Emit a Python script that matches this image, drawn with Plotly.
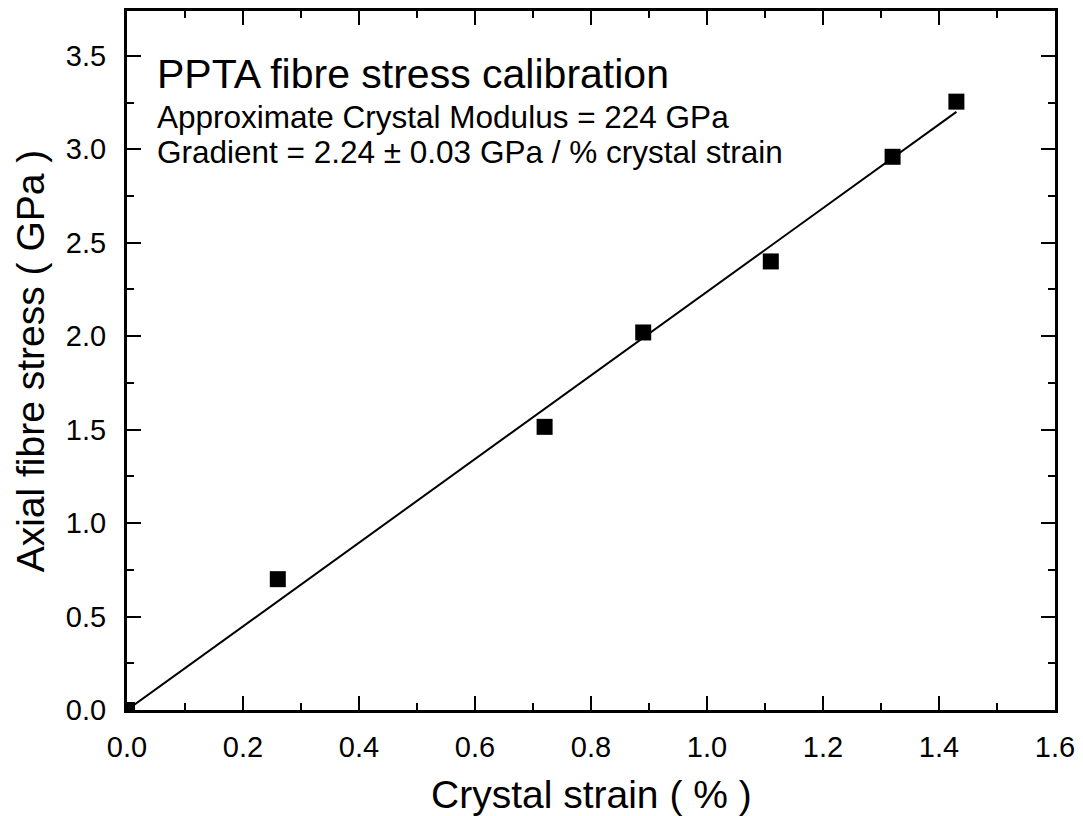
import plotly.graph_objects as go

# Data
strain = [0.0, 0.26, 0.72, 0.89, 1.11, 1.32, 1.43]
stress = [0.0, 0.70, 1.515, 2.02, 2.40, 2.96, 3.255]

fit_x = [0.0, 1.43]
fit_y = [0.0, 3.20]

x_ticks = [0.0, 0.2, 0.4, 0.6, 0.8, 1.0, 1.2, 1.4, 1.6]
y_ticks = [0.0, 0.5, 1.0, 1.5, 2.0, 2.5, 3.0, 3.5]

title_text = "PPTA fibre stress calibration"
line1_text = "Approximate Crystal Modulus = 224 GPa"
line2_text = "Gradient = 2.24 \u00b1 0.03 GPa / % crystal strain"
x_title = "Crystal strain ( % )"
y_title = "Axial fibre stress ( GPa )"

W, H = 1083, 816
L, R, T, B = 127, 20, 8, 106
PW, PH = W - L - R, H - T - B

def px(xp):
    return (xp - L) / PW

def py(yp):
    return (H - B - yp) / PH

FONT = "Arial, Liberation Sans, sans-serif"

fig = go.Figure()
fig.add_trace(go.Scatter(x=fit_x, y=fit_y, mode="lines",
                         line=dict(color="black", width=2), showlegend=False))
fig.add_trace(go.Scatter(x=strain, y=stress, mode="markers",
                         marker=dict(symbol="square", size=16, color="black",
                                     line=dict(width=0)),
                         showlegend=False))

axis_common = dict(
    showgrid=False, zeroline=False, showline=True, linecolor="black", linewidth=3,
    mirror="ticks", ticks="inside", ticklen=14, tickwidth=2, tickcolor="black",
    tickfont=dict(family=FONT, size=29, color="black"),
    ticklabeloverflow="allow",
)

fig.update_xaxes(range=[0, 1.6], tickvals=x_ticks,
                 ticktext=[f"{v:.1f}" for v in x_ticks],
                 minor=dict(dtick=0.1, tick0=0, ticks="inside", ticklen=7,
                            tickwidth=2, tickcolor="black"),
                 ticklabelstandoff=9, **axis_common)
fig.update_yaxes(range=[0, 3.74], tickvals=y_ticks,
                 ticktext=[f"{v:.1f}" for v in y_ticks],
                 minor=dict(dtick=0.25, tick0=0, ticks="inside", ticklen=7,
                            tickwidth=2, tickcolor="black"),
                 ticklabelstandoff=12, **axis_common)

annotations = [
    dict(text=title_text, x=px(155), y=py(71), xanchor="left", yanchor="middle",
         font=dict(family=FONT, size=41, color="black")),
    dict(text=line1_text, x=px(155), y=py(114), xanchor="left", yanchor="middle",
         font=dict(family=FONT, size=31.5, color="black")),
    dict(text=line2_text, x=px(155), y=py(150), xanchor="left", yanchor="middle",
         font=dict(family=FONT, size=31.5, color="black")),
    dict(text=x_title, x=px((L + W - R) / 2), y=py(795), xanchor="center", yanchor="middle",
         font=dict(family=FONT, size=39, color="black")),
    dict(text=y_title, x=px(30), y=py((T + H - B) / 2), xanchor="center", yanchor="middle",
         textangle=-90, font=dict(family=FONT, size=39, color="black")),
]
for a in annotations:
    a.update(xref="paper", yref="paper", showarrow=False)

fig.update_layout(
    width=W, height=H,
    margin=dict(l=L, r=R, t=T, b=B),
    paper_bgcolor="white", plot_bgcolor="white",
    annotations=annotations,
    showlegend=False,
)

fig.write_html("out.html")
